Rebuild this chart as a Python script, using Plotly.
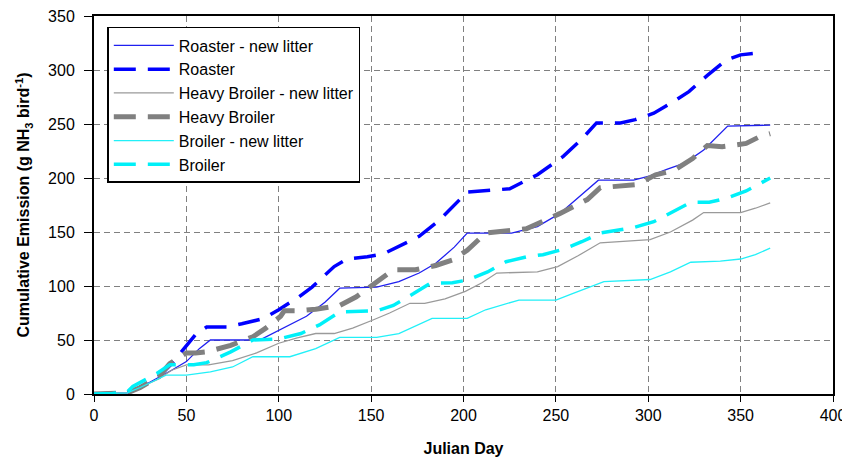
import plotly.graph_objects as go

# ---- data (Julian day, cumulative emission g NH3 / bird) ----
roaster_new_x = [0, 10, 18, 25, 35, 42, 50, 57, 63, 83, 91, 100, 115, 125, 133, 153, 165, 176, 185, 195, 202, 226, 240, 252, 262, 273, 292, 301, 310, 320, 330, 343, 366]
roaster_new_y = [0, 0.5, 1, 6, 15, 22, 30, 42, 50, 50, 51, 59, 72, 85, 98, 99, 104, 112, 121, 136, 149, 149, 155, 167, 182, 198, 198, 202, 208, 214, 226, 248, 249]

roaster_x = [0, 10, 18, 25, 35, 42, 50, 55, 61, 72, 80, 92, 100, 111, 118, 130, 137, 148, 157, 167, 176, 187, 195, 202, 225, 240, 254, 264, 272, 285, 293, 303, 313, 322, 332, 342, 350, 361]
roaster_y = [0, 0.5, 1, 6, 16, 28, 44, 55, 62, 62, 65, 70, 78, 90, 99, 118, 125, 127, 130, 138, 146, 161, 175, 187, 190, 203, 220, 236, 251, 251, 254, 260, 270, 280, 295, 309, 314, 316]

heavy_new_x = [0, 10, 18, 25, 35, 42, 50, 62, 75, 88, 100, 110, 120, 130, 140, 151, 160, 171, 179, 190, 201, 210, 218, 240, 251, 262, 274, 301, 312, 324, 330, 350, 358, 366]
heavy_new_y = [0, 0.5, 1, 6, 14, 22, 27, 27, 31, 38, 47, 52, 56, 56, 61, 68.5, 75, 84, 84, 88, 95, 103, 112, 113, 118, 128, 140, 143, 150, 161, 168, 168, 172, 177]

heavy_x = [0, 10, 18, 25, 35, 41, 50, 55, 61, 74, 86, 93, 101, 103, 110, 120, 133, 142, 151, 162, 174, 185, 194, 202, 212, 234, 252, 267, 274, 294, 304, 314, 324, 332, 340, 353, 360, 366]
heavy_y = [0, 0.5, 1, 6, 16, 28, 38, 38, 39, 45, 53, 61, 72, 77, 77, 78.5, 82, 90, 101, 115, 115, 119, 124, 133, 149, 153, 167, 180, 191, 194, 203, 207, 218, 230, 229, 232, 238, 241]

broiler_new_x = [0, 10, 18, 25, 32, 39, 50, 63, 75, 86, 106, 120, 133, 153, 165, 176, 183, 202, 212, 230, 250, 259, 276, 301, 312, 323, 339, 350, 358, 366]
broiler_new_y = [0, 0.5, 1, 6, 12, 17.5, 17.5, 20.5, 25, 34.5, 34.5, 42, 52.5, 52.5, 56, 65, 70, 70, 78, 87, 87, 93, 104, 106, 113, 122, 123, 125, 129, 135]

broiler_x = [0, 10, 18, 21, 34, 41, 54, 61, 74, 81, 86, 100, 112, 122, 133, 153, 162, 173, 182, 194, 202, 213, 223, 234, 243, 254, 264, 274, 292, 303, 314, 323, 333, 342, 353, 362, 366]
broiler_y = [0, 0.5, 2, 7, 19, 27, 27, 29, 39, 45, 50, 51, 56, 64, 76, 77, 82, 93, 102.5, 103, 105.5, 113, 122.5, 127, 129, 134, 141, 149, 154, 159.5, 169, 177.5, 177.5, 181, 188, 196, 200]

x_ticks = [0, 50, 100, 150, 200, 250, 300, 350, 400]
y_ticks = [0, 50, 100, 150, 200, 250, 300, 350]

DASH = "22px,12px"
series = [
    ("Roaster - new litter", roaster_new_x, roaster_new_y, "#2020f0", 1.3, "solid"),
    ("Roaster", roaster_x, roaster_y, "#0000ff", 3.5, DASH),
    ("Heavy Broiler - new litter", heavy_new_x, heavy_new_y, "#9a9a9a", 1.3, "solid"),
    ("Heavy Broiler", heavy_x, heavy_y, "#808080", 5, DASH),
    ("Broiler - new litter", broiler_new_x, broiler_new_y, "#22f0f8", 1.3, "solid"),
    ("Broiler", broiler_x, broiler_y, "#00f0f8", 3.5, DASH),
]

fig = go.Figure()
for name, xs, ys, col, w, dash in series:
    fig.add_trace(go.Scatter(x=xs, y=ys, mode="lines", name=name,
                             line=dict(color=col, width=w, dash=dash)))

font_family = "Arial, 'Liberation Sans', sans-serif"
# The page body adds an 8px margin, so the figure is sized/offset to compensate.
fig.update_layout(
    width=842, height=450,
    margin=dict(l=86, r=17, t=8, b=64, autoexpand=False),
    paper_bgcolor="white", plot_bgcolor="white",
    font=dict(family=font_family, size=16, color="black"),
    showlegend=True,
    legend=dict(x=0.018, y=0.971, xanchor="left", yanchor="top",
                bordercolor="black", borderwidth=1.5, bgcolor="white",
                font=dict(size=16, color="black"), itemwidth=60,
                tracegroupgap=0),
    xaxis=dict(range=[0, 400], tickvals=x_ticks, ticktext=[str(v) for v in x_ticks],
               showgrid=True, gridcolor="#808080", griddash="6px,4px", gridwidth=1.2,
               showline=True, linecolor="black", linewidth=2, mirror=True,
               ticks="outside", ticklen=6, tickcolor="black", zeroline=False,
               automargin=False, ticklabeloverflow="allow",
               title=dict(text="<b>Julian Day</b>", font=dict(size=16), standoff=20)),
    yaxis=dict(range=[0, 350], tickvals=y_ticks, ticktext=[str(v) for v in y_ticks],
               showgrid=True, gridcolor="#808080", griddash="6px,4px", gridwidth=1.2,
               showline=True, linecolor="black", linewidth=2, mirror=True,
               ticks="outside", ticklen=8, tickcolor="black", zeroline=False,
               ticklabelstandoff=6, automargin=False, ticklabeloverflow="allow",
               title=dict(text="<b>Cumulative Emission (g NH<sub>3</sub> bird<sup>-1</sup>)</b>",
                          font=dict(size=16), standoff=14)),
)

fig.write_html("out.html")
